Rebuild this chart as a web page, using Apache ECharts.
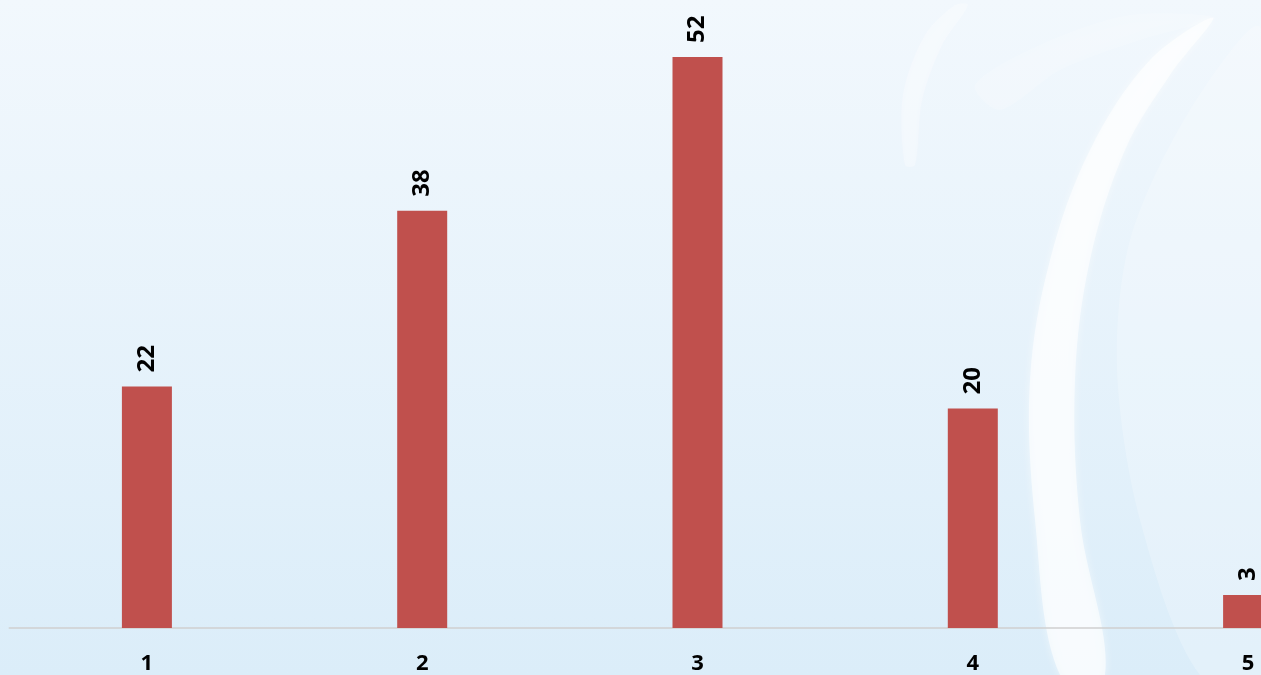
<!DOCTYPE html>
<html>
<head>
<meta charset="utf-8">
<script src="https://cdn.jsdelivr.net/npm/echarts@6/dist/echarts.min.js"></script>
<style>
html,body{margin:0;padding:0;}
#chart{width:1261px;height:675px;}
</style>
</head>
<body>
<div id="chart"></div>
<script>
var categories = ['1', '2', '3', '4', '5'];
var values = [22, 38, 52, 20, 3];

var chart = echarts.init(document.getElementById('chart'));
var option = {
  animation: false,
  backgroundColor: {
    type: 'linear', x: 0, y: 0, x2: 0, y2: 1,
    colorStops: [{offset: 0, color: '#f2f8fd'}, {offset: 1, color: '#dbedf9'}]
  },
  graphic: [
    {
      type: 'polygon', silent: true, z: -10,
      shape: {points: [[1261,30],[1190,110],[1130,240],[1117,370],[1140,520],[1200,675],[1261,675]], smooth: 0.3},
      style: {fill: 'rgba(255,255,255,0.22)'}
    },
    {
      type: 'polygon', silent: true, z: -10,
      shape: {points: [[1213,18],[1150,60],[1090,150],[1050,260],[1030,380],[1035,520],[1060,675],[1105,675],[1080,520],[1075,380],[1090,260],[1125,150],[1170,75]], smooth: 0.35},
      style: {fill: 'rgba(255,255,255,0.6)', shadowBlur: 8, shadowColor: 'rgba(255,255,255,0.8)'}
    },
    {
      type: 'polygon', silent: true, z: -10,
      shape: {points: [[905,165],[903,95],[925,35],[955,5],[968,5],[942,45],[922,100],[915,165]], smooth: 0.3},
      style: {fill: 'rgba(255,255,255,0.28)', shadowBlur: 6, shadowColor: 'rgba(255,255,255,0.5)'}
    },
    {
      type: 'polygon', silent: true, z: -10,
      shape: {points: [[975,85],[1040,45],[1130,15],[1215,18],[1140,40],[1060,70],[1000,110]], smooth: 0.3},
      style: {fill: 'rgba(255,255,255,0.18)', shadowBlur: 6, shadowColor: 'rgba(255,255,255,0.4)'}
    }
  ],
  grid: {left: 9.25, width: 1376.5, top: 24.1, bottom: 47, containLabel: false, outerBoundsMode: 'none'},
  xAxis: {
    type: 'category',
    data: categories,
    axisLine: {lineStyle: {color: '#d0d0d0', width: 1.5}},
    axisTick: {show: false},
    axisLabel: {color: '#000', fontWeight: 'bold', fontSize: 22, fontFamily: 'Open Sans', margin: 25}
  },
  yAxis: {
    type: 'value', min: 0, max: 55,
    show: false, splitLine: {show: false}
  },
  series: [{
    type: 'bar',
    data: values,
    barWidth: 50,
    itemStyle: {color: '#c0504d'},
    label: {
      show: true, position: 'top', rotate: 90, distance: 14,
      align: 'left', verticalAlign: 'middle',
      color: '#000', fontWeight: 'bold', fontSize: 24, fontFamily: 'Open Sans'
    }
  }]
};
chart.setOption(option);
</script>
</body>
</html>
